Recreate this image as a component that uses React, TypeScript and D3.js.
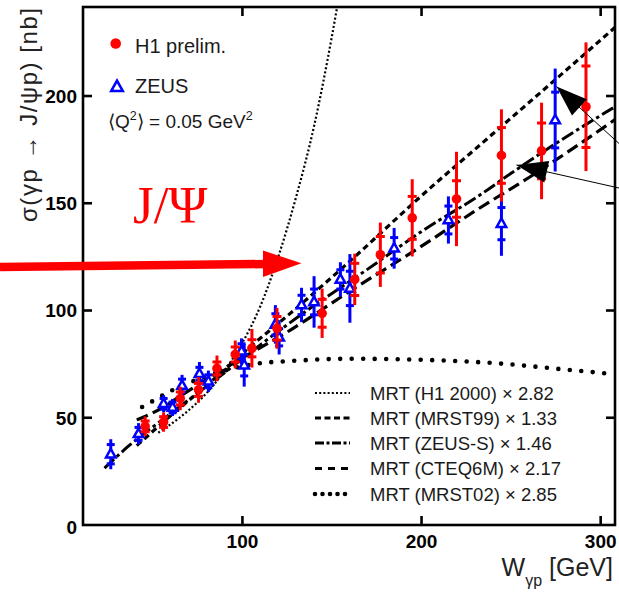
import React from "react";
import * as d3 from "d3";

const WIDTH = 619;
const HEIGHT = 597;

// Plot frame (pixels)
const FRAME = { left: 83, right: 615, top: 7, bottom: 525 };

// Axis domains and ticks
const wDomain = [11, 308];
const sigmaDomain = [0, 241.5];
const wTicks = [100, 200, 300];
const sigmaTicks = [0, 50, 100, 150, 200];

// H1 preliminary: W, sigma, total error, statistical error
const h1W = [45.7, 56, 65.3, 75.5, 85.8, 96, 105.3, 119.3, 144.5, 162.7, 177, 194.8, 219.5, 244.6, 267, 291.8];
const h1Sigma = [46, 48, 59, 63, 73, 79.5, 82.4, 91.7, 98.7, 114.5, 126, 143.2, 152, 172.3, 174.4, 195];
const h1Tot = [4.6, 4.5, 5.5, 6, 6, 6.5, 9, 9.5, 11.5, 12, 15, 18, 22, 21.5, 22.5, 30];
const h1Stat = [2.5, 2.5, 3, 3, 3, 3.5, 4, 5.5, 6.5, 7.5, 8.5, 10, 8.5, 13, 13, 19];

// ZEUS: W, sigma, total error, statistical error
const zeusW = [26.5, 42, 56, 61, 66.3, 76, 81, 99.5, 101, 118.4, 120.5, 133, 140, 154.7, 160, 184.7, 215, 244.6, 274.6];
const zeusSigma = [33, 42.5, 56.5, 54.8, 65, 70.5, 67, 81, 74.5, 93.5, 87.5, 102.6, 104, 114.5, 110.3, 129, 142.2, 140.5, 188.8];
const zeusTot = [7, 5, 4, 4, 5, 5.5, 5, 6, 10, 9, 8, 8, 12, 8, 16, 9.5, 11, 15, 24];
const zeusStat = [4.5, 3, 2.5, 2.5, 3, 3, 3, 3.5, 5, 5, 4, 4.5, 6, 4.5, 8, 5, 6.5, 7.5, 13];

// MRT model curves (W, sigma)
const h1fitW = [53, 60, 70, 80, 90, 100, 110, 120, 130, 140, 150, 153, 157];
const h1fitS = [43, 47, 53.5, 61.5, 72, 85, 102, 125, 153, 186, 228, 242, 260];

const mrst99W = [41, 60, 80, 100, 130, 160, 200, 240, 280, 308];
const mrst99S = [37, 51, 65, 80, 101, 123, 153.5, 182.5, 211.5, 232];

const zeusSW = [23, 36, 60, 90, 110, 136, 166, 203, 232, 250, 278, 308];
const zeusSS = [26.5, 36.5, 52, 71, 84, 100, 117, 138.5, 153.5, 164, 179.5, 195];

const cteqW = [41, 55, 66, 90, 127, 160, 200, 231, 260, 308];
const cteqS = [49, 54.5, 60.5, 73, 91, 109, 130, 147, 162, 189];

const mrst02W = [44, 50, 60, 74, 90, 106, 128, 160, 200, 240, 280, 308];
const mrst02S = [55, 57.8, 62.5, 67.5, 72, 75, 76.5, 77.5, 77, 75.5, 72.5, 70.3];

const modelLabels = [
  "MRT (H1 2000) \u00d7 2.82",
  "MRT (MRST99) \u00d7 1.33",
  "MRT (ZEUS-S) \u00d7 1.46",
  "MRT (CTEQ6M) \u00d7 2.17",
  "MRT (MRST02) \u00d7 2.85",
];

const SANS = "'Liberation Sans', Arial, Helvetica, sans-serif";
const RED = "#ff0000";
const BLUE = "#0000ff";

const x = d3.scaleLinear().domain(wDomain).range([FRAME.left, FRAME.right]);
const y = d3.scaleLinear().domain(sigmaDomain).range([FRAME.bottom, FRAME.top]);

const lineGen = d3
  .line<[number, number]>()
  .x((d) => x(d[0]))
  .y((d) => y(d[1]))
  .curve(d3.curveMonotoneX);

const zip = (a: number[], b: number[]) => a.map((v, i) => [v, b[i]] as [number, number]);

const curves = [
  { pts: zip(h1fitW, h1fitS), dash: "2 2.2", width: 2.2, cap: "butt", legendDash: "2 2.2", color: "#000" },
  { pts: zip(mrst99W, mrst99S), dash: "6 4", width: 3.2, cap: "butt", legendDash: "6 3.5", color: "#000" },
  { pts: zip(zeusSW, zeusSS), dash: "13 3.5 3.5 3.5", width: 3, cap: "butt", legendDash: "9 2.5 3 2.5", color: "#000" },
  { pts: zip(cteqW, cteqS), dash: "12 5.5", width: 3.2, cap: "butt", legendDash: "7 6", color: "#000" },
  { pts: zip(mrst02W, mrst02S), dash: "0 11.5", width: 4.6, cap: "round", legendDash: "0 7.5", color: "#000" },
];

const legendRows = [393, 418, 443, 468.5, 494];

function triangle(cx: number, cy: number, s: number) {
  const h = s * 0.9;
  return `M${cx},${cy - h * 0.62} L${cx - s / 2},${cy + h * 0.38} L${cx + s / 2},${cy + h * 0.38} Z`;
}

function arrowHead(tail: [number, number], tip: [number, number], len: number, hw: number) {
  const dx = tip[0] - tail[0];
  const dy = tip[1] - tail[1];
  const d = Math.hypot(dx, dy);
  const ux = dx / d;
  const uy = dy / d;
  const bx = tip[0] - ux * len;
  const by = tip[1] - uy * len;
  const nx = -uy;
  const ny = ux;
  return `M${tip[0]},${tip[1]} L${bx + nx * hw},${by + ny * hw} L${bx - nx * hw},${by - ny * hw} Z`;
}

function ErrorPoint({
  w, s, tot, stat, color, tick,
}: { w: number; s: number; tot: number; stat: number; color: string; tick: number }) {
  const cx = x(w);
  return (
    <g stroke={color} strokeWidth={3}>
      <line x1={cx} x2={cx} y1={y(s - tot)} y2={y(s + tot)} />
      <line x1={cx - tick / 2} x2={cx + tick / 2} y1={y(s + stat)} y2={y(s + stat)} />
      <line x1={cx - tick / 2} x2={cx + tick / 2} y1={y(s - stat)} y2={y(s - stat)} />
    </g>
  );
}

export default function App() {
  const tails: [number, number][] = [
    [619, 143.5],
    [619, 188],
  ];
  const tips: [number, number][] = [
    [556.5, 86.5],
    [516.5, 165],
  ];

  return (
    <svg
      width={WIDTH}
      height={HEIGHT}
      viewBox={`0 0 ${WIDTH} ${HEIGHT}`}
      style={{ position: "absolute", left: 0, top: 0, background: "#fff" }}
    >
      <defs>
        <clipPath id="plotArea">
          <rect x={FRAME.left} y={FRAME.top} width={FRAME.right - FRAME.left} height={FRAME.bottom - FRAME.top} />
        </clipPath>
      </defs>
      <rect x={0} y={0} width={WIDTH} height={HEIGHT} fill="#fff" />

      {/* model curves */}
      <g clipPath="url(#plotArea)" fill="none">
        {curves.map((c, i) => (
          <path
            key={i}
            d={lineGen(c.pts) || ""}
            stroke={c.color}
            strokeWidth={c.width}
            strokeDasharray={c.dash}
            strokeLinecap={c.cap as any}
          />
        ))}
      </g>

      {/* ZEUS points */}
      <g>
        {zeusW.map((w, i) => (
          <ErrorPoint key={i} w={w} s={zeusSigma[i]} tot={zeusTot[i]} stat={zeusStat[i]} color={BLUE} tick={8} />
        ))}
        {zeusW.map((w, i) => (
          <path key={i} d={triangle(x(w), y(zeusSigma[i]), 9.5)} fill="#fff" stroke={BLUE} strokeWidth={2.5} />
        ))}
      </g>

      {/* H1 points */}
      <g>
        {h1W.map((w, i) => (
          <ErrorPoint key={i} w={w} s={h1Sigma[i]} tot={h1Tot[i]} stat={h1Stat[i]} color={RED} tick={9} />
        ))}
        {h1W.map((w, i) => (
          <circle key={i} cx={x(w)} cy={y(h1Sigma[i])} r={4.8} fill={RED} />
        ))}
      </g>

      {/* frame */}
      <rect
        x={FRAME.left}
        y={FRAME.top}
        width={FRAME.right - FRAME.left}
        height={FRAME.bottom - FRAME.top}
        fill="none"
        stroke="#000"
        strokeWidth={2.6}
      />

      {/* ticks */}
      <g stroke="#000" strokeWidth={2.6}>
        {sigmaTicks.filter((v) => v > 0).map((v) => (
          <g key={v}>
            <line x1={FRAME.left} x2={FRAME.left + 9} y1={y(v)} y2={y(v)} />
            <line x1={FRAME.right} x2={FRAME.right - 9} y1={y(v)} y2={y(v)} />
          </g>
        ))}
        {wTicks.map((v) => (
          <g key={v}>
            <line x1={x(v)} x2={x(v)} y1={FRAME.bottom} y2={FRAME.bottom - 9} />
            <line x1={x(v)} x2={x(v)} y1={FRAME.top} y2={FRAME.top + 9} />
          </g>
        ))}
      </g>

      {/* tick labels */}
      <g fontFamily={SANS} fontWeight="bold" fontSize={19} fill="#000">
        {sigmaTicks.map((v) => (
          <text key={v} x={77} y={y(v) + (v === 0 ? 8.5 : 6.8)} textAnchor="end">
            {v}
          </text>
        ))}
        {wTicks.map((v) => (
          <text key={v} x={x(v)} y={548} textAnchor="middle">
            {v}
          </text>
        ))}
      </g>

      {/* axis titles */}
      <text
        transform="translate(37,115) rotate(-90)"
        fontFamily={SANS}
        fontSize={24}
        fill="#222"
        textAnchor="middle"
        textLength={214}
        lengthAdjust="spacing"
      >
        {"\u03c3(\u03b3p \u2192 J/\u03c8p) [nb]"}
      </text>
      <text x={613} y={576} fontFamily={SANS} fontSize={25} fill="#222" textAnchor="end">
        W
        <tspan fontSize={16} dy={10}>
          {"\u03b3p"}
        </tspan>
        <tspan dy={-10}>{" [GeV]"}</tspan>
      </text>

      {/* data legend */}
      <circle cx={115.7} cy={43.5} r={5.3} fill={RED} />
      <path d={triangle(117, 87, 11.5)} fill="#fff" stroke={BLUE} strokeWidth={2.6} />
      <g fontFamily={SANS} fontSize={20} fill="#1a1a1a">
        <text x={135} y={53}>H1 prelim.</text>
        <text x={135} y={93}>ZEUS</text>
        <text x={108} y={128} fontSize={19}>
          {"\u27e8Q"}
          <tspan fontSize={12.5} dy={-8}>
            2
          </tspan>
          <tspan dy={8}>{"\u27e9 = 0.05 GeV"}</tspan>
          <tspan fontSize={12.5} dy={-8}>
            2
          </tspan>
        </text>
      </g>

      {/* model legend */}
      <g>
        {curves.map((c, i) => (
          <line
            key={i}
            x1={315}
            x2={350}
            y1={legendRows[i]}
            y2={legendRows[i]}
            stroke={c.color}
            strokeWidth={c.width}
            strokeDasharray={c.legendDash}
            strokeLinecap={c.cap as any}
          />
        ))}
        {modelLabels.map((t, i) => (
          <text key={t} x={370} y={legendRows[i] + 6.8} fontFamily={SANS} fontSize={18.5} fill="#1a1a1a">
            {t}
          </text>
        ))}
      </g>

      {/* J/Psi label and red arrow */}
      <text x={133} y={223} fontFamily="'Liberation Serif', 'Times New Roman', serif" fontSize={53} fill={RED}>
        {"J/\u03a8"}
      </text>
      <line x1={0} y1={267} x2={266} y2={264} stroke={RED} strokeWidth={8.5} />
      <path d="M263,250.5 L301.5,263.3 L263,277 Z" fill={RED} />

      {/* black pointer arrows */}
      {tails.map((t, i) => (
        <g key={i}>
          <line x1={t[0]} y1={t[1]} x2={tips[i][0]} y2={tips[i][1]} stroke="#000" strokeWidth={1} />
          <path d={arrowHead(t, tips[i], 31, 11)} fill="#000" />
        </g>
      ))}
    </svg>
  );
}
